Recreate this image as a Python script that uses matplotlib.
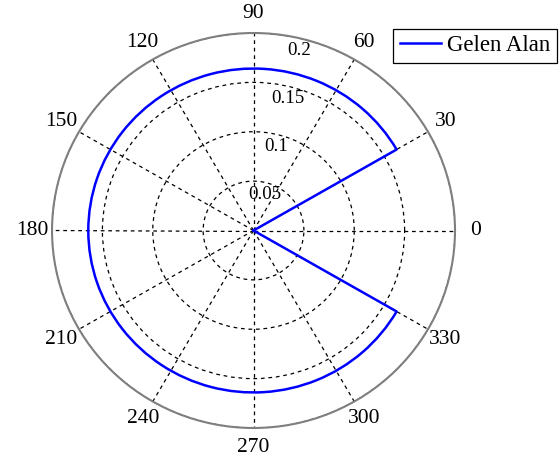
import numpy as np
import matplotlib.pyplot as plt
from matplotlib.transforms import offset_copy

# datos del diagrama (grados y valor del campo)
theta_deg = [30, 30, 330, 330]
campo = [0, 0.164, 0.164, 0]
etiqueta = 'Gelen Alan'

angulos_ticks = [0, 30, 60, 90, 120, 150, 180, 210, 240, 270, 300, 330]
radios_ticks = [0.05, 0.1, 0.15, 0.2]
radios_etiquetas = ['0.05', '0.1', '0.15', '0.2']
r_max = 0.2

plt.rcParams['font.family'] = ['Liberation Serif', 'DejaVu Serif']

fig = plt.figure(figsize=(5.6, 4.61), dpi=100)
ax = fig.add_axes([0.0929, 0.0716, 0.7196, 0.8568], projection='polar')
ax.set_aspect('auto')

ln, = ax.plot(np.deg2rad(theta_deg), campo, color='#0000ff', linewidth=1.8, label=etiqueta)
# que los tramos de radio constante se dibujen como arcos
ln.get_path()._interpolation_steps = 180

ax.set_ylim(0, r_max)
ax.set_thetagrids(angulos_ticks, [''] * len(angulos_ticks))
ax.set_rgrids(radios_ticks, [''] * len(radios_ticks))
ax.grid(True, color='black', linestyle=(0, (3, 3)), linewidth=0.9)
ax.spines['polar'].set_color('#7f7f7f')
ax.spines['polar'].set_linewidth(1.5)

# etiquetas de angulo centradas en 1.1*rmax (como en polar de matlab)
for a in angulos_ticks:
    ax.text(np.deg2rad(a), 1.1 * r_max, str(a), ha='center', va='center',
            fontsize=15.5, clip_on=False)

# etiquetas radiales
trans = offset_copy(ax.transData, fig=fig, x=0, y=-4, units='dots')
for r, txt in zip(radios_ticks, radios_etiquetas):
    ax.text(np.deg2rad(77), r, txt, transform=trans, ha='center', va='top', fontsize=13.6)

leg = fig.legend(loc='upper right', bbox_to_anchor=(0.995, 0.938), fontsize=16.5,
                 fancybox=False, framealpha=1, edgecolor='black',
                 handlelength=1.8, borderpad=0.3, handletextpad=0.25, borderaxespad=0)
leg.get_frame().set_linewidth(0.9)

fig.savefig('out.png', dpi=100)
